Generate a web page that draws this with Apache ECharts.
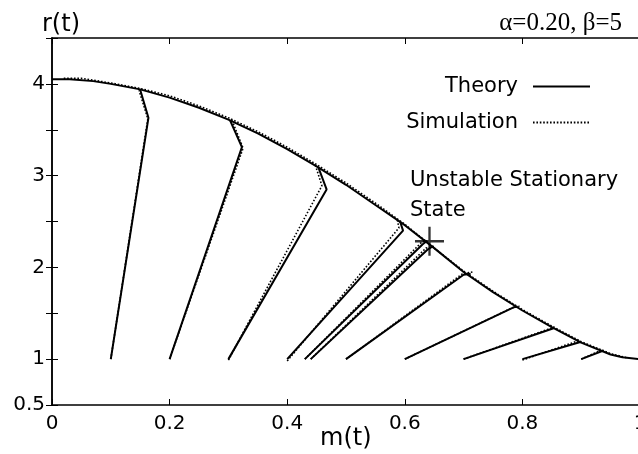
<!DOCTYPE html>
<html>
<head>
<meta charset="utf-8">
<script src="https://cdn.jsdelivr.net/npm/echarts@6/dist/echarts.min.js"></script>
<style>
html,body{margin:0;padding:0;background:#fff;}
#c{width:638px;height:454px;}
</style>
</head>
<body>
<div id="c"></div>
<script>
// Slow-manifold curve (theory) m -> r
const curveM = [0, 0.03, 0.07, 0.1, 0.15, 0.2, 0.25, 0.3, 0.35, 0.4, 0.45, 0.5, 0.55, 0.6, 0.65, 0.7, 0.75, 0.8, 0.85, 0.9, 0.95, 0.97, 1.0];
const curveR = [4.05, 4.05, 4.03, 4.0, 3.94, 3.85, 3.74, 3.61, 3.46, 3.29, 3.10, 2.90, 2.68, 2.46, 2.21, 1.95, 1.73, 1.53, 1.35, 1.18, 1.05, 1.02, 1.0];
// Simulation along the curve
const simCurveM = [0.02, 0.05, 0.1, 0.15, 0.2, 0.25, 0.3, 0.35, 0.4, 0.45, 0.5, 0.55, 0.6, 0.65, 0.7, 0.75, 0.8, 0.85, 0.9, 0.95, 0.98];
const simCurveR = [4.06, 4.06, 4.01, 3.95, 3.87, 3.76, 3.63, 3.48, 3.31, 3.12, 2.92, 2.70, 2.47, 2.21, 1.96, 1.74, 1.54, 1.36, 1.19, 1.06, 1.01];

// Theory trajectories (each starts at r = 1)
const theoryTrajM = [
  [0.1, 0.164, 0.15],
  [0.2, 0.323, 0.303],
  [0.3, 0.467, 0.453],
  [0.4, 0.597, 0.592],
  [0.43, 0.630, 0.638],
  [0.44, 0.638, 0.648],
  [0.5, 0.700, 0.712],
  [0.6, 0.785, 0.792],
  [0.7, 0.853],
  [0.8, 0.900],
  [0.9, 0.938]
];
const theoryTrajR = [
  [1, 3.63, 3.935],
  [1, 3.31, 3.60],
  [1, 2.85, 3.09],
  [1, 2.40, 2.50],
  [1, 2.25, 2.29],
  [1, 2.19, 2.23],
  [1, 1.92, 1.93],
  [1, 1.565, 1.57],
  [1, 1.337],
  [1, 1.19],
  [1, 1.094]
];
// Simulation trajectories
const simTrajM = [
  [0.1, 0.163, 0.148],
  [0.2, 0.325, 0.305],
  [0.3, 0.459, 0.447],
  [0.4, 0.590, 0.587],
  [0.43, 0.628, 0.636],
  [0.44, 0.636, 0.650],
  [0.5, 0.698, 0.715],
  [0.6, 0.783, 0.795],
  [0.7, 0.850],
  [0.8, 0.895],
  [0.9, 0.935]
];
const simTrajR = [
  [1, 3.62, 3.93],
  [1, 3.30, 3.62],
  [0.99, 2.89, 3.13],
  [0.98, 2.43, 2.53],
  [1, 2.27, 2.30],
  [1, 2.21, 2.23],
  [1, 1.93, 1.95],
  [1, 1.56, 1.58],
  [1, 1.34],
  [0.99, 1.20],
  [1, 1.10]
];
// Unstable stationary state
const saddleM = [0.642];
const saddleR = [2.285];

const xTicks = [0, 0.2, 0.4, 0.6, 0.8, 1];
const yLabelled = [0.5, 1, 2, 3, 4];

const SANS = 'DejaVu Sans';
const zip = (a, b) => a.map((v, i) => [v, b[i]]);

const series = [];
const simStyle = {color: '#000', width: 1.6, type: [1.6, 1.8]};
const thStyle = {color: '#000', width: 2};
const common = {type: 'line', showSymbol: false, symbol: 'none', silent: true, itemStyle: {color: '#000'}};

series.push(Object.assign({name: 'Simulation', data: zip(simCurveM, simCurveR), lineStyle: simStyle, z: 2}, common));
simTrajM.forEach((m, i) => series.push(Object.assign({name: 'Simulation', data: zip(m, simTrajR[i]), lineStyle: simStyle, z: 2}, common)));
series.push(Object.assign({name: 'Theory', data: zip(curveM, curveR), lineStyle: thStyle, z: 3}, common));
theoryTrajM.forEach((m, i) => series.push(Object.assign({name: 'Theory', data: zip(m, theoryTrajR[i]), lineStyle: thStyle, z: 3}, common)));
series.push({
  name: 'Unstable Stationary State', type: 'scatter', data: zip(saddleM, saddleR),
  symbol: 'path://M13.8,0h2.4v30h-2.4zM0,13.8h30v2.4h-30z', symbolSize: [29, 29],
  itemStyle: {color: '#000'}, z: 5, silent: true
});

const chart = echarts.init(document.getElementById('c'), null, {renderer: 'canvas'});
const tickCommon = {show: true, inside: true, length: 6, lineStyle: {color: '#000', width: 1}};
chart.setOption({
  animation: false,
  backgroundColor: '#fff',
  grid: {left: 52, top: 38, width: 588, height: 367, containLabel: false, outerBoundsMode: 'none'},
  legend: {
    data: ['Theory', 'Simulation'],
    orient: 'vertical', align: 'right',
    right: 47, top: 76, padding: 0,
    itemWidth: 57, itemHeight: 14, itemGap: 15,
    itemStyle: {opacity: 0},
    textStyle: {fontFamily: SANS, fontSize: 21, color: '#000', padding: [0, 10, 0, 0]},
    selectedMode: false
  },
  xAxis: [{
    type: 'value', position: 'bottom', min: 0, max: 1, interval: 0.2,
    axisLine: {show: true, lineStyle: {color: '#000', width: 1.5}},
    axisTick: tickCommon,
    splitLine: {show: false},
    axisLabel: {show: true, margin: 9, fontFamily: SANS, fontSize: 20, color: '#000',
      showMinLabel: true, showMaxLabel: true,
      formatter: v => (xTicks.some(t => Math.abs(t - v) < 1e-9) ? String(+v.toFixed(1)) : '')}
  }, {
    type: 'value', position: 'top', min: 0, max: 1, interval: 0.2,
    axisLine: {show: true, lineStyle: {color: '#000', width: 1.5}},
    axisTick: tickCommon, axisLabel: {show: false}, splitLine: {show: false}
  }],
  yAxis: [{
    type: 'value', position: 'left', min: 0.5, max: 4.5, interval: 0.5,
    axisLine: {show: true, lineStyle: {color: '#000', width: 1.5}},
    axisTick: tickCommon,
    splitLine: {show: false},
    axisLabel: {show: true, margin: 7, fontFamily: SANS, fontSize: 20, color: '#000',
      showMinLabel: true,
      formatter: v => (yLabelled.some(t => Math.abs(t - v) < 1e-9) ? String(v) : '')}
  }, {
    type: 'value', position: 'right', min: 0.5, max: 4.5, interval: 0.5,
    axisLine: {show: true, lineStyle: {color: '#000', width: 1.5}},
    axisTick: tickCommon, axisLabel: {show: false}, splitLine: {show: false}
  }],
  graphic: [
    {type: 'text', left: 42, top: 13, style: {text: 'r(t)', fontFamily: SANS, fontSize: 24, fill: '#000'}},
    {type: 'text', left: 320, top: 427, style: {text: 'm(t)', fontFamily: SANS, fontSize: 24, fill: '#000'}},
    {type: 'text', right: 16, top: 11, style: {text: 'α=0.20, β=5', fontFamily: 'Liberation Serif', fontSize: 25, fill: '#000'}},
    {type: 'text', left: 410, top: 170, style: {text: 'Unstable Stationary', fontFamily: SANS, fontSize: 21, fill: '#000'}},
    {type: 'text', left: 410, top: 200, style: {text: 'State', fontFamily: SANS, fontSize: 21, fill: '#000'}}
  ],
  series: series
});
</script>
</body>
</html>
